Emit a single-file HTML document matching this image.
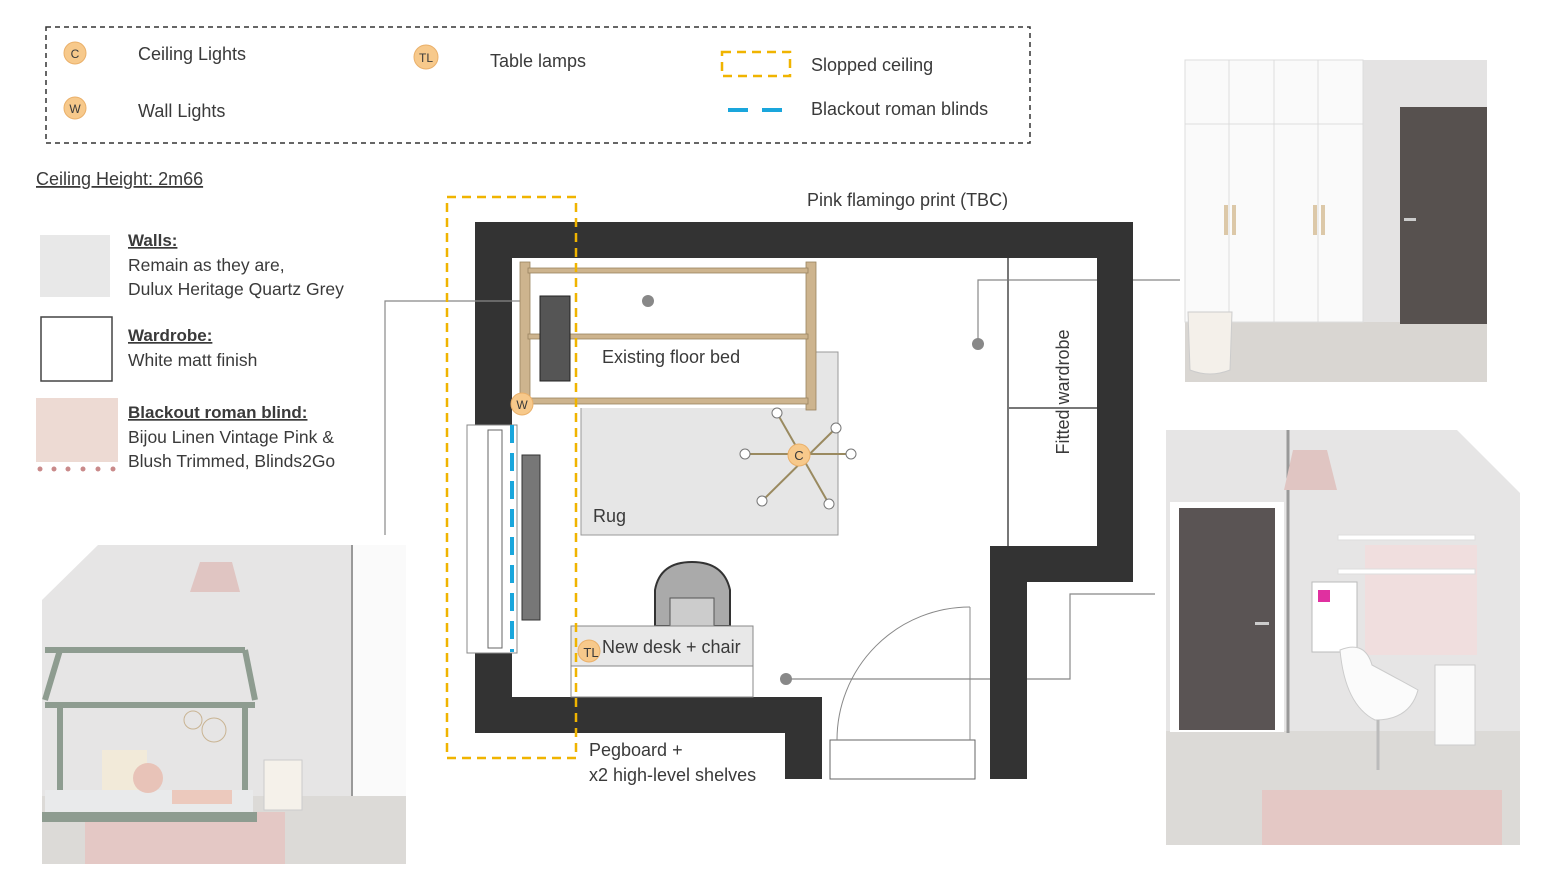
<!DOCTYPE html>
<html><head><meta charset="utf-8"><style>
html,body{margin:0;padding:0;background:#fff;}
svg{display:block;}
text{font-family:"Liberation Sans",sans-serif;fill:#3a3a3a;}
</style></head><body>
<svg width="1556" height="890" viewBox="0 0 1556 890" xmlns="http://www.w3.org/2000/svg">
<!-- Legend -->
<rect x="46" y="27" width="984" height="116" fill="none" stroke="#333" stroke-width="1.5" stroke-dasharray="5,4"/>
<circle cx="75" cy="53" r="11" fill="#f7c98b" stroke="#eab06a"/><text x="75" y="58" font-size="12" text-anchor="middle" fill="#333">C</text>
<circle cx="75" cy="108" r="11" fill="#f7c98b" stroke="#eab06a"/><text x="75" y="113" font-size="12" text-anchor="middle" fill="#333">W</text>
<circle cx="426" cy="57" r="12" fill="#f7c98b" stroke="#eab06a"/><text x="426" y="62" font-size="12" text-anchor="middle" fill="#333">TL</text>
<text x="138" y="60" font-size="18">Ceiling Lights</text>
<text x="138" y="117" font-size="18">Wall Lights</text>
<text x="490" y="67" font-size="18">Table lamps</text>
<rect x="722" y="52" width="68" height="24" fill="none" stroke="#f0b400" stroke-width="2.5" stroke-dasharray="9,6"/>
<text x="811" y="71" font-size="18">Slopped ceiling</text>
<line x1="728" y1="110" x2="790" y2="110" stroke="#1aa6dc" stroke-width="4" stroke-dasharray="20,14"/>
<text x="811" y="115" font-size="18">Blackout roman blinds</text>

<text x="36" y="185" font-size="18" fill="#1f3a5a" text-decoration="underline">Ceiling Height: 2m66</text>

<!-- Swatches -->
<rect x="40" y="235" width="70" height="62" fill="#e8e8e8"/>
<text x="128" y="246" font-size="17" font-weight="bold" text-decoration="underline" fill="#555">Walls:</text>
<text x="128" y="271" font-size="17.5" fill="#555">Remain as they are,</text>
<text x="128" y="295" font-size="17.5" fill="#555">Dulux Heritage Quartz Grey</text>
<rect x="41" y="317" width="71" height="64" fill="#fff" stroke="#444" stroke-width="1.5"/>
<text x="128" y="341" font-size="17" font-weight="bold" text-decoration="underline" fill="#555">Wardrobe:</text>
<text x="128" y="366" font-size="17.5" fill="#555">White matt finish</text>
<rect x="36" y="398" width="82" height="64" fill="#eddad3"/>
<g fill="#c98a8a"><circle cx="40" cy="469" r="2.5"/><circle cx="54" cy="469" r="2.5"/><circle cx="68" cy="469" r="2.5"/><circle cx="83" cy="469" r="2.5"/><circle cx="98" cy="469" r="2.5"/><circle cx="113" cy="469" r="2.5"/></g>
<text x="128" y="418" font-size="17" font-weight="bold" text-decoration="underline" fill="#555">Blackout roman blind:</text>
<text x="128" y="443" font-size="17.5" fill="#555">Bijou Linen Vintage Pink &amp;</text>
<text x="128" y="467" font-size="17.5" fill="#555">Blush Trimmed, Blinds2Go</text>

<!-- Connector lines -->
<g stroke="#888" stroke-width="1.2" fill="none">
<polyline points="648,301 385,301 385,535"/>
<polyline points="978,344 978,280 1180,280"/>
<polyline points="786,679 1070,679 1070,594 1155,594"/>
</g>

<!-- Rug -->
<rect x="581" y="352" width="257" height="183" fill="#e6e6e6" stroke="#999"/>
<text x="593" y="522" font-size="18">Rug</text>
<!-- Bed -->
<rect x="522" y="262" width="293" height="146" fill="#fff"/>
<g fill="#cdb48e" stroke="#9a8460" stroke-width="0.8">
<rect x="520" y="262" width="10" height="148"/>
<rect x="806" y="262" width="10" height="148"/>
<rect x="528" y="268" width="280" height="5"/>
<rect x="528" y="334" width="280" height="5"/>
<rect x="528" y="398" width="280" height="6"/>
</g>
<rect x="540" y="296" width="30" height="85" fill="#555" stroke="#222"/>
<text x="602" y="363" font-size="18">Existing floor bed</text>

<!-- Walls -->
<g fill="#333">
<rect x="475" y="222" width="658" height="36"/>
<rect x="475" y="222" width="37" height="511"/>
<rect x="1097" y="222" width="36" height="360"/>
<rect x="990" y="546" width="143" height="36"/>
<rect x="990" y="546" width="37" height="233"/>
<rect x="475" y="697" width="347" height="36"/>
<rect x="785" y="697" width="37" height="82"/>
</g>
<line x1="475" y1="301" x2="512" y2="301" stroke="#888" stroke-width="1.2"/>
<!-- window -->
<rect x="467" y="425" width="50" height="228" fill="#fff" stroke="#888"/>
<rect x="488" y="430" width="14" height="218" fill="#fff" stroke="#666"/>
<!-- radiator -->
<rect x="522" y="455" width="18" height="165" fill="#777" stroke="#333"/>
<!-- blinds -->
<line x1="512" y1="425" x2="512" y2="652" stroke="#1aa6dc" stroke-width="4" stroke-dasharray="18,10"/>
<!-- wardrobe -->
<g stroke="#777" stroke-width="2"><line x1="1008" y1="258" x2="1008" y2="546"/><line x1="1008" y1="408" x2="1097" y2="408"/></g>
<text transform="translate(1069,392) rotate(-90)" font-size="18" text-anchor="middle">Fitted wardrobe</text>
<!-- door -->
<rect x="830" y="740" width="145" height="39" fill="#fff" stroke="#666"/>
<line x1="970" y1="607" x2="970" y2="740" stroke="#888"/>
<path d="M970,607 A133,133 0 0 0 837,740" fill="none" stroke="#888"/>
<!-- desk/chair -->
<path d="M655,626 L655,590 Q660,562 692,562 Q724,562 730,590 L730,626 Z" fill="#aaa" stroke="#333" stroke-width="2"/>
<rect x="670" y="598" width="44" height="28" fill="#ccc" stroke="#555"/>
<rect x="571" y="626" width="182" height="40" fill="#e8e8e8" stroke="#888"/>
<rect x="571" y="666" width="182" height="31" fill="#fff" stroke="#888"/>
<text x="602" y="653" font-size="18">New desk + chair</text>
<circle cx="589" cy="651" r="11" fill="#f7c98b" stroke="#eab06a"/><text x="591" y="657" font-size="13" text-anchor="middle" fill="#333">TL</text>
<!-- ceiling light -->
<g stroke="#9a8a60" stroke-width="2"><line x1="745" y1="454" x2="851" y2="454"/><line x1="777" y1="413" x2="829" y2="504"/><line x1="836" y1="428" x2="762" y2="501"/></g>
<g fill="#fff" stroke="#777"><circle cx="745" cy="454" r="5"/><circle cx="851" cy="454" r="5"/><circle cx="777" cy="413" r="5"/><circle cx="836" cy="428" r="5"/><circle cx="762" cy="501" r="5"/><circle cx="829" cy="504" r="5"/></g>
<circle cx="799" cy="455" r="11" fill="#f7c98b" stroke="#eab06a"/><text x="799" y="460" font-size="13" text-anchor="middle" fill="#333">C</text>
<circle cx="522" cy="404" r="11" fill="#f7c98b" stroke="#eab06a"/><text x="522" y="409" font-size="12" text-anchor="middle" fill="#333">W</text>
<!-- sloped ceiling -->
<rect x="447" y="197" width="129" height="561" fill="none" stroke="#f0b400" stroke-width="2.5" stroke-dasharray="9,6"/>
<!-- dots -->
<g fill="#888"><circle cx="648" cy="301" r="6"/><circle cx="978" cy="344" r="6"/><circle cx="786" cy="679" r="6"/></g>
<text x="807" y="206" font-size="18">Pink flamingo print (TBC)</text>
<text x="589" y="756" font-size="18">Pegboard +</text>
<text x="589" y="781" font-size="18">x2 high-level shelves</text>

<!-- Photo top right -->
<rect x="1185" y="60" width="302" height="262" fill="#e4e3e3"/>
<rect x="1185" y="322" width="302" height="60" fill="#d9d6d2"/>
<rect x="1185" y="60" width="178" height="262" fill="#fafafa" stroke="#ddd"/>
<g stroke="#ddd"><line x1="1229" y1="60" x2="1229" y2="322"/><line x1="1274" y1="60" x2="1274" y2="322"/><line x1="1318" y1="60" x2="1318" y2="322"/><line x1="1185" y1="124" x2="1363" y2="124"/></g>
<g fill="#dcc8a8"><rect x="1224" y="205" width="4" height="30"/><rect x="1232" y="205" width="4" height="30"/><rect x="1313" y="205" width="4" height="30"/><rect x="1321" y="205" width="4" height="30"/></g>
<rect x="1400" y="107" width="87" height="217" fill="#57514f"/>
<rect x="1404" y="218" width="12" height="3" fill="#ccc"/>
<path d="M1188,312 L1232,312 L1230,370 Q1210,378 1190,370 Z" fill="#f4f0ea" stroke="#ccc"/>
<!-- Photo bottom right -->
<path d="M1166,430 L1457,430 L1520,493 L1520,845 L1166,845 Z" fill="#e6e5e5"/>
<rect x="1166" y="731" width="354" height="114" fill="#dcdad7"/>
<rect x="1262" y="790" width="240" height="55" fill="#e4c8c5"/>
<line x1="1288" y1="430" x2="1288" y2="733" stroke="#999" stroke-width="3"/>
<path d="M1293,450 L1327,450 L1337,490 L1284,490 Z" fill="#e0c5c2"/>
<rect x="1170" y="502" width="114" height="230" fill="#fff"/>
<rect x="1179" y="508" width="96" height="222" fill="#5a5454"/>
<rect x="1255" y="622" width="14" height="3" fill="#ccc"/>
<rect x="1365" y="545" width="112" height="110" fill="#f0dede"/>
<rect x="1338" y="535" width="137" height="5" fill="#fff" stroke="#ddd"/>
<rect x="1338" y="569" width="137" height="5" fill="#fff" stroke="#ddd"/>
<rect x="1312" y="582" width="45" height="70" fill="#fff" stroke="#bbb"/>
<rect x="1318" y="590" width="12" height="12" fill="#e030a0"/>
<rect x="1435" y="665" width="40" height="80" fill="#fafafa" stroke="#ccc"/>
<path d="M1340,650 Q1365,640 1372,665 Q1400,680 1418,690 Q1410,720 1375,720 Q1345,705 1340,650 Z" fill="#fbfbfb" stroke="#ccc"/>
<line x1="1378" y1="720" x2="1378" y2="770" stroke="#bbb" stroke-width="3"/>
<!-- Photo bottom left -->
<path d="M42,600 L98,545 L406,545 L406,864 L42,864 Z" fill="#e6e5e5"/>
<rect x="352" y="545" width="54" height="255" fill="#fafafa"/>
<line x1="352" y1="545" x2="352" y2="800" stroke="#999" stroke-width="2"/>
<rect x="42" y="796" width="364" height="68" fill="#dcdad7"/>
<rect x="85" y="812" width="200" height="52" fill="#e4c8c5"/>
<path d="M200,562 L232,562 L240,592 L190,592 Z" fill="#e0c5c2"/>
<g fill="none" stroke="#8e9c90" stroke-width="6">
<path d="M45,650 L245,650 M60,650 L45,700 M245,650 L255,700 M45,705 L255,705 M60,705 L60,820 M245,705 L245,820"/>
</g>
<rect x="45" y="790" width="208" height="22" fill="#e9eaeb"/>
<rect x="42" y="812" width="215" height="10" fill="#8e9c90"/>
<rect x="102" y="750" width="45" height="40" fill="#f2ead9"/>
<circle cx="148" cy="778" r="15" fill="#e8c3b8"/>
<rect x="172" y="790" width="60" height="14" fill="#ecc9bd"/>
<rect x="264" y="760" width="38" height="50" fill="#f5f1ea" stroke="#ccc"/>
<circle cx="193" cy="720" r="9" fill="none" stroke="#c9b493"/>
<circle cx="214" cy="730" r="12" fill="none" stroke="#c9b493"/>
</svg>
</body></html>
